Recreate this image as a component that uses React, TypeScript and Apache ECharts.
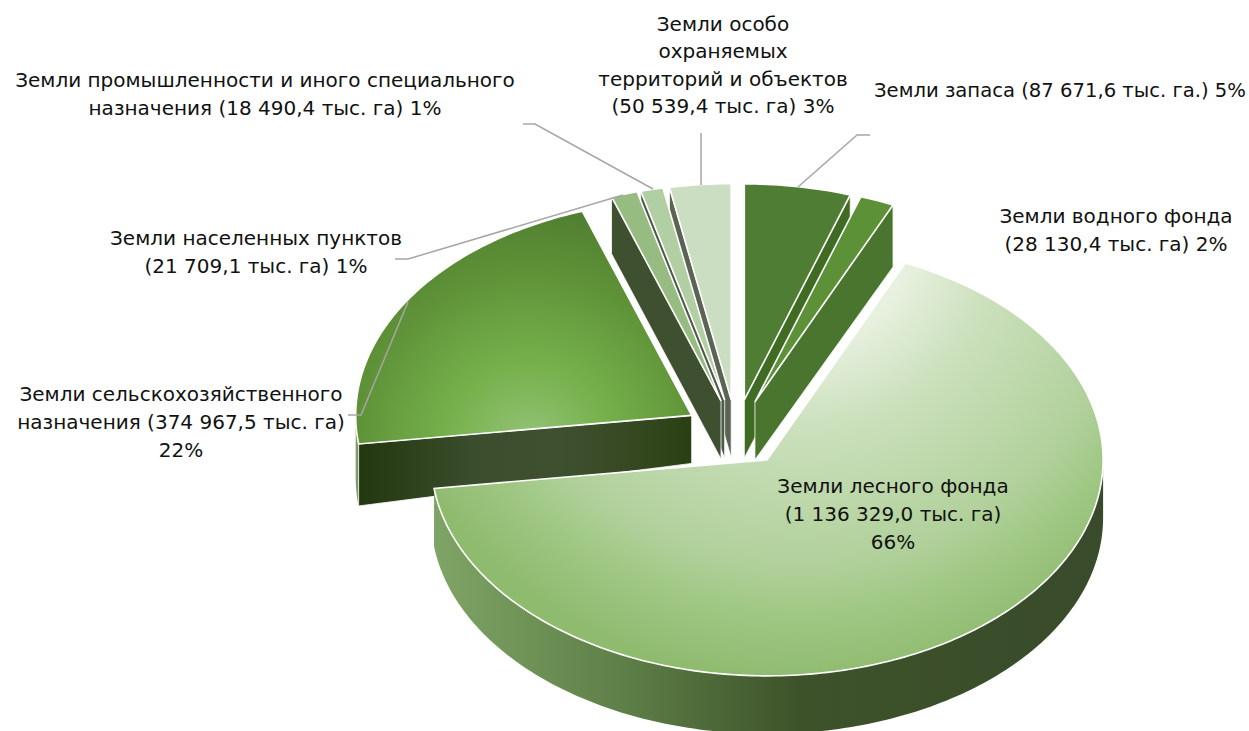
import React, { useEffect, useRef } from "react";
import * as echarts from "echarts";

// --- data, clockwise from 12 o'clock ---
const categories = [
  "Земли запаса",
  "Земли водного фонда",
  "Земли лесного фонда",
  "Земли сельскохозяйственного назначения",
  "Земли населенных пунктов",
  "Земли промышленности и иного специального назначения",
  "Земли особо охраняемых территорий и объектов",
];
const areaThousandHa = [87671.6, 28130.4, 1136329.0, 374967.5, 21709.1, 18490.4, 50539.4];
const labelTexts = [
  "Земли запаса (87 671,6 тыс. га.) 5%",
  "Земли водного фонда\n(28 130,4 тыс. га) 2%",
  "Земли лесного фонда\n(1 136 329,0 тыс. га)\n66%",
  "Земли сельскохозяйственного\nназначения (374 967,5 тыс. га)\n22%",
  "Земли населенных пунктов\n(21 709,1 тыс. га) 1%",
  "Земли промышленности и иного специального\nназначения (18 490,4 тыс. га) 1%",
  "Земли особо\nохраняемых\nтерриторий и объектов\n(50 539,4 тыс. га) 3%",
];

// --- layout & style ---
const labelAnchors = [
  [1060, 90], [1116, 230], [893, 514], [181, 422], [256, 252], [265, 94], [723, 65],
];
const labelSizes = [19.6, 20, 20, 20, 20, 20, 20];
const leaders = [
  [[798, 187], [857, 135], [870, 135]],
  null,
  null,
  [[348, 415], [361, 415], [408, 302]],
  [[395, 259], [408, 259], [623, 195]],
  [[523, 124], [535, 124], [653, 189]],
  [[701, 185], [701, 133]],
];
const drawOrder = [6, 5, 4, 0, 1, 3, 2];
const CX = 736, CY = 433, RX = 336, RY = 216, EXPLODE = 0.155;
const tipDepth = [58, 58, 58, 48, 58, 58, 58];
const rimDepth = [60, 62, 58, 62, 57, 57, 57];
const LEADER = "#a6a6a6";
const FONT = "'DejaVu Sans', Verdana, sans-serif";

const L = (x0: number, x1: number, stops: [number, string][]) =>
  new echarts.graphic.LinearGradient(x0, 0, x1, 0, stops.map(([offset, color]) => ({ offset, color })), true);

const topFills: any[] = [
  "#4e7d33",
  "#5d9138",
  new echarts.graphic.RadialGradient(800, 230, 450, [
    { offset: 0.25, color: "#e8f1e0" },
    { offset: 0.44, color: "#cbe0bc" },
    { offset: 0.75, color: "#b0d09a" },
    { offset: 0.85, color: "#a0c885" },
    { offset: 1, color: "#8fbb6f" },
  ], true),
  new echarts.graphic.RadialGradient(528, 445, 240, [
    { offset: 0, color: "#96c379" },
    { offset: 0.35, color: "#74b04a" },
    { offset: 0.72, color: "#5f9238" },
    { offset: 1, color: "#507e30" },
  ], true),
  "#96bc82",
  "#b2cfa3",
  "#cbdec2",
];
const startWallFills: any[] = [
  "#3f6b22",
  "#4a752f",
  "#3a4c2b",
  L(360, 692, [[0, "#22380f"], [0.33, "#3a4d2c"], [0.6, "#3f5030"], [0.85, "#34481f"], [1, "#2a3f12"]]),
  "#3f5031",
  "#50594b",
  "#5a6354",
];
const outerWallFills: any[] = [
  "#3f6b22",
  "#4a752f",
  L(432, 1103, [[0, "#7fa566"], [0.28, "#5f8048"], [0.55, "#3d5229"], [1, "#394b2b"]]),
  "#7f9a6a",
  "#3f5031",
  "#50594b",
  "#5a6354",
];

const total = areaThousandHa.reduce((a, b) => a + b, 0);
const boundaries: number[] = [0];
areaThousandHa.forEach((v, i) => boundaries.push(boundaries[i] + (v / total) * 360));

const rad = (d: number) => (d * Math.PI) / 180;
const onRim = (c: number[], deg: number, dy = 0) => [
  c[0] + RX * Math.sin(rad(deg)),
  c[1] - RY * Math.cos(rad(deg)) + dy,
];
const arcPts = (c: number[], a0: number, a1: number, dy = 0) => {
  const n = Math.max(2, Math.ceil(Math.abs(a1 - a0)));
  const pts: number[][] = [];
  for (let k = 0; k <= n; k++) pts.push(onRim(c, a0 + ((a1 - a0) * k) / n, dy));
  return pts;
};

function renderItem(_params: any, api: any) {
  const i = api.value(0) as number;
  const a0 = boundaries[i];
  const a1 = boundaries[i + 1];
  const mid = rad((a0 + a1) / 2);
  const c = [CX + EXPLODE * RX * Math.sin(mid), CY - EXPLODE * RY * Math.cos(mid)];
  const children: any[] = [];
  const wall = (deg: number, fill: any) => {
    const p = onRim(c, deg);
    children.push({
      type: "polygon",
      shape: { points: [c, p, [p[0], p[1] + rimDepth[i]], [c[0], c[1] + tipDepth[i]]] },
      style: { fill, stroke: "#ffffff", lineWidth: 0.8 },
    });
  };
  // outer rim wall, front half only
  const w0 = Math.max(a0, 90);
  const w1 = Math.min(a1, 270);
  if (w1 > w0) {
    children.push({
      type: "polygon",
      shape: { points: [...arcPts(c, w0, w1), ...arcPts(c, w1, w0, rimDepth[i])] },
      style: { fill: outerWallFills[i], stroke: null },
    });
  }
  // radial walls: visible only when they face the viewer
  if (Math.cos(rad(a0 - 90)) < -1e-6) wall(a0, startWallFills[i]);
  if (Math.cos(rad(a1 + 90)) < -1e-6) wall(a1, startWallFills[i]);
  children.push({
    type: "polygon",
    shape: { points: [c, ...arcPts(c, a0, a1)] },
    style: { fill: topFills[i], stroke: "#ffffff", lineWidth: 1.6, lineJoin: "miter" },
  });
  return { type: "group", children };
}

export default function App() {
  const ref = useRef<HTMLDivElement>(null);
  useEffect(() => {
    const chart = echarts.init(ref.current!, undefined, { renderer: "svg" });
    const lineEls = leaders
      .filter((l) => l)
      .map((l) => ({
        type: "polyline",
        z: 5,
        shape: { points: l },
        style: { fill: null, stroke: LEADER, lineWidth: 1.5 },
      }));
    const textEls = labelTexts.map((t, i) => ({
      type: "text",
      z: 6,
      x: labelAnchors[i][0],
      y: labelAnchors[i][1],
      style: {
        text: t,
        fill: "#111111",
        font: `${labelSizes[i]}px ${FONT}`,
        lineHeight: 27.6,
        align: "center",
        verticalAlign: "middle",
      },
    }));
    chart.setOption({
      animation: false,
      backgroundColor: "#ffffff",
      series: [
        {
          type: "custom",
          name: "Земельный фонд",
          coordinateSystem: "none",
          silent: true,
          renderItem,
          data: drawOrder.map((i) => ({ name: categories[i], value: [i, areaThousandHa[i]] })),
        },
      ],
      graphic: { elements: [...lineEls, ...textEls] },
    });
    return () => chart.dispose();
  }, []);
  return (
    <div
      ref={ref}
      style={{ position: "fixed", left: 0, top: 0, width: 1249, height: 731, overflow: "hidden" }}
    />
  );
}
